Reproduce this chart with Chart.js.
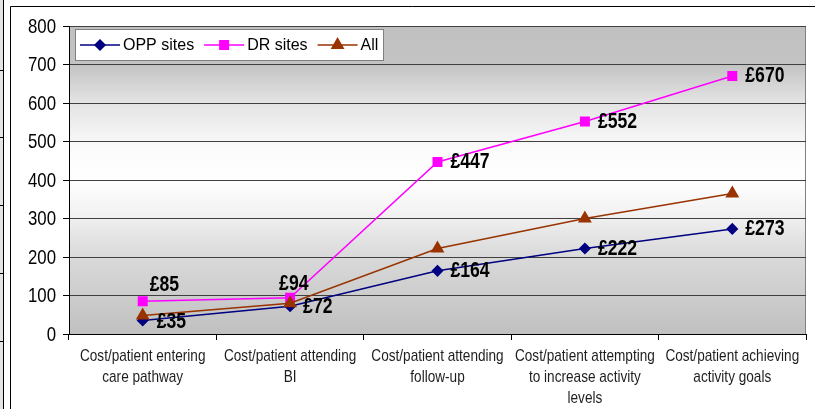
<!DOCTYPE html>
<html>
<head>
<meta charset="utf-8">
<script src="https://cdn.jsdelivr.net/npm/chart.js@4.4.1/dist/chart.umd.min.js"></script>
<style>
  html, body { margin: 0; padding: 0; background: #ffffff; }
  #wrap { position: relative; width: 815px; height: 409px; }
  canvas { display: block; }
</style>
</head>
<body>
<div id="wrap"><canvas id="c" width="815" height="409"></canvas></div>
<script>
// Cost per patient at each stage of the pathway (£)
const categories = [
  ['Cost/patient entering', 'care pathway'],
  ['Cost/patient attending', 'BI'],
  ['Cost/patient attending', 'follow-up'],
  ['Cost/patient attempting', 'to increase activity', 'levels'],
  ['Cost/patient achieving', 'activity goals']
];
const oppSites = [35, 72, 164, 222, 273];
const drSites  = [85, 94, 447, 552, 670];
const allSites = [48, 80, 222, 300, 365];
const yTicks   = [0, 100, 200, 300, 400, 500, 600, 700, 800];

const SANS = '"Liberation Sans", Arial, sans-serif';

// Horizontally condensed text (narrow face)
function narrowText(ctx, text, x, y, align, squeeze) {
  ctx.save();
  ctx.translate(x, y);
  ctx.scale(squeeze, 1);
  ctx.textAlign = align;
  ctx.fillText(text, 0, 0);
  ctx.restore();
}

// Page frame lines and the plot area's grey-white-grey fill
const backdrop = {
  id: 'backdrop',
  beforeDraw(chart) {
    const ctx = chart.ctx, a = chart.chartArea;
    ctx.save();
    // narrow strip at the far left
    ctx.fillStyle = '#e4e4e4';
    ctx.fillRect(0, 0, 3, chart.height);
    ctx.strokeStyle = '#000';
    ctx.lineWidth = 1;
    ctx.beginPath();
    ctx.moveTo(3.5, 0); ctx.lineTo(3.5, chart.height);
    [70, 137, 205, 273, 341].forEach(y => { ctx.moveTo(0, y + 0.5); ctx.lineTo(3.5, y + 0.5); });
    ctx.stroke();
    // outer frame
    ctx.beginPath();
    ctx.moveTo(10.5, chart.height); ctx.lineTo(10.5, 6.5); ctx.lineTo(chart.width, 6.5);
    ctx.stroke();
    // plot area fill
    const g = ctx.createLinearGradient(0, a.top, 0, a.bottom);
    g.addColorStop(0, '#c0c0c0');
    g.addColorStop(0.125, '#c3c3c3');
    g.addColorStop(0.25, '#e4e4e4');
    g.addColorStop(0.4, '#fbfbfb');
    g.addColorStop(0.5, '#ffffff');
    g.addColorStop(0.6, '#f3f3f3');
    g.addColorStop(0.75, '#d9d9d9');
    g.addColorStop(1, '#c0c0c0');
    ctx.fillStyle = g;
    ctx.fillRect(a.left, a.top, a.right - a.left, a.bottom - a.top);
    ctx.strokeStyle = '#808080';
    ctx.beginPath();
    ctx.moveTo(a.left, a.top + 0.5); ctx.lineTo(a.right - 0.5, a.top + 0.5); ctx.lineTo(a.right - 0.5, a.bottom);
    ctx.stroke();
    ctx.restore();
  }
};

// Axis tick labels in a condensed face
const axisLabels = {
  id: 'axisLabels',
  afterDraw(chart, args, opts) {
    const ctx = chart.ctx, a = chart.chartArea;
    const xs = chart.scales.x, ys = chart.scales.y;
    ctx.save();
    ctx.textBaseline = 'middle';
    ctx.fillStyle = '#000';
    ctx.font = opts.yFont;
    ys.ticks.forEach(t => {
      narrowText(ctx, String(t.value), a.left - 13, ys.getPixelForValue(t.value) + 1, 'right', opts.squeeze);
    });
    ctx.fillStyle = '#1e1e1e';
    ctx.font = opts.xFont;
    chart.data.labels.forEach((lines, i) => {
      const x = xs.getPixelForValue(i);
      lines.forEach((ln, k) => {
        narrowText(ctx, ln, x, a.bottom + 22 + k * opts.lineHeight, 'center', opts.squeeze);
      });
    });
    ctx.restore();
  }
};

// Value labels beside the points
const valueLabels = {
  id: 'valueLabels',
  afterDatasetsDraw(chart, args, opts) {
    const ctx = chart.ctx;
    ctx.save();
    ctx.font = opts.font;
    ctx.fillStyle = '#000';
    ctx.textBaseline = 'middle';
    chart.data.datasets.forEach((ds, di) => {
      if (!ds.showValues) return;
      const meta = chart.getDatasetMeta(di);
      meta.data.forEach((pt, i) => {
        const off = (opts.offsets[di] && opts.offsets[di][i]) || opts.defaultOffset;
        narrowText(ctx, '£' + ds.data[i], pt.x + off[0], pt.y + off[1], 'left', opts.squeeze);
      });
    });
    ctx.restore();
  }
};

// Boxed legend in the top-left corner of the plot
const boxLegend = {
  id: 'boxLegend',
  afterDraw(chart, args, opts) {
    const ctx = chart.ctx, a = chart.chartArea;
    const x0 = a.left + opts.dx, y0 = a.top + opts.dy;
    ctx.save();
    ctx.fillStyle = '#ffffff';
    ctx.fillRect(x0, y0, opts.width, opts.height);
    ctx.strokeStyle = '#808080';
    ctx.lineWidth = 1;
    ctx.strokeRect(x0 + 0.5, y0 + 0.5, opts.width - 1, opts.height - 1);
    ctx.font = opts.font;
    ctx.textBaseline = 'middle';
    const cy = y0 + opts.height / 2;
    let x = x0 + 5;
    chart.data.datasets.forEach((ds) => {
      ctx.strokeStyle = ds.borderColor;
      ctx.lineWidth = ds.borderWidth;
      ctx.beginPath();
      ctx.moveTo(x, cy); ctx.lineTo(x + 40, cy);
      ctx.stroke();
      ctx.fillStyle = ds.pointBackgroundColor;
      ctx.strokeStyle = ds.pointBorderColor;
      Chart.helpers.drawPoint(ctx, {
        pointStyle: ds.pointStyle, radius: ds.pointRadius, rotation: 0, borderWidth: 1
      }, x + 20, cy);
      ctx.fillStyle = '#000';
      ctx.textAlign = 'left';
      ctx.fillText(ds.label, x + 43, cy + 1);
      x += 43 + ctx.measureText(ds.label).width + opts.gap;
    });
    ctx.restore();
  }
};

new Chart(document.getElementById('c'), {
  type: 'line',
  data: {
    labels: categories,
    datasets: [
      {
        label: 'OPP sites', data: oppSites, showValues: true,
        borderColor: '#000080', backgroundColor: '#000080',
        pointBackgroundColor: '#000080', pointBorderColor: '#000080',
        pointStyle: 'rectRot', pointRadius: 5, borderWidth: 1.5, order: 2
      },
      {
        label: 'DR sites', data: drSites, showValues: true,
        borderColor: '#ff00ff', backgroundColor: '#ff00ff',
        pointBackgroundColor: '#ff00ff', pointBorderColor: '#ff00ff',
        pointStyle: 'rect', pointRadius: 6, borderWidth: 1.5, order: 1
      },
      {
        label: 'All', data: allSites, showValues: false,
        borderColor: '#993300', backgroundColor: '#993300',
        pointBackgroundColor: '#993300', pointBorderColor: '#993300',
        pointStyle: 'triangle', pointRadius: 6.5, borderWidth: 1.5, order: 0
      }
    ]
  },
  options: {
    responsive: false,
    animation: false,
    events: [],
    layout: { padding: { left: 12, top: 26, right: 9, bottom: 0 } },
    scales: {
      x: {
        offset: true,
        grid: { display: true, drawOnChartArea: false, offset: true, color: '#000', tickLength: 6, tickWidth: 1 },
        border: { color: '#000', width: 1 },
        ticks: { display: false },
        afterFit(s) { s.height = 75; }
      },
      y: {
        min: 0, max: 800,
        afterBuildTicks(s) { s.ticks = yTicks.map(v => ({ value: v })); },
        grid: { color: '#404040', lineWidth: 1, tickLength: 6, tickColor: '#000', drawTicks: true },
        border: { color: '#000', width: 1 },
        ticks: { display: false },
        afterFit(s) { s.width = 57; }
      }
    },
    plugins: {
      legend: { display: false },
      tooltip: { enabled: false },
      axisLabels: { yFont: '21px ' + SANS, xFont: '17px ' + SANS, squeeze: 0.8, lineHeight: 21 },
      valueLabels: {
        font: 'bold 22px ' + SANS,
        squeeze: 0.8,
        defaultOffset: [13, 0],
        offsets: { 1: { 0: [7, -16], 1: [-11, -14] }, 0: { 0: [14, 1], 1: [13, 1] } }
      },
      boxLegend: { dx: 6, dy: 3, width: 309, height: 32, gap: 10, font: '16px ' + SANS }
    }
  },
  plugins: [backdrop, axisLabels, valueLabels, boxLegend]
});
</script>
</body>
</html>
